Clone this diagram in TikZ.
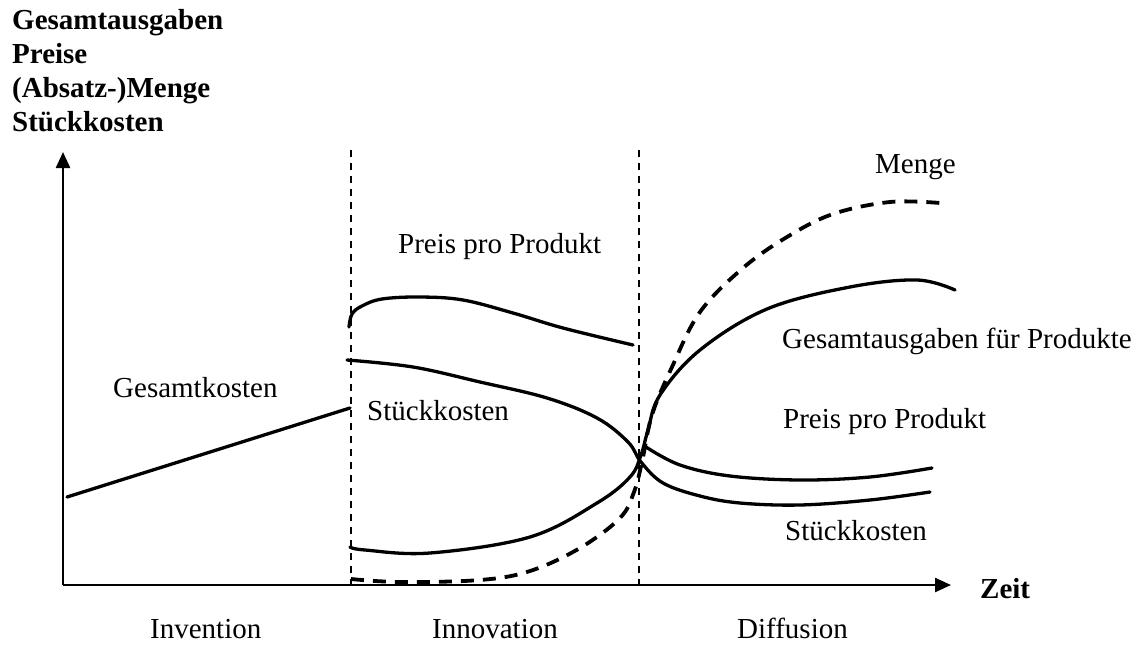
\documentclass[tikz,border=0pt]{standalone}
\usepackage{fontspec}
\setmainfont{Liberation Serif}
\usetikzlibrary{arrows.meta}
\begin{document}
\begin{tikzpicture}[x=1pt,y=-1pt,
  lbl/.style={anchor=base west,inner sep=0pt,font=\fontsize{29}{34}\selectfont},
  blbl/.style={lbl,font=\fontsize{29}{34}\selectfont\bfseries},
  axis/.style={line width=2.4pt,-{Triangle[length=16pt,width=14pt]}},
  phase/.style={line width=1.3pt,dash pattern=on 7pt off 6pt},
  curve/.style={line width=3.3pt,line cap=round,line join=round},
  dcurve/.style={line width=3.8pt,line cap=butt,line join=round,dash pattern=on 13pt off 9pt}]
\useasboundingbox (0,0) rectangle (1141,646);

% axis titles
\node[blbl] (y1) at (12,29)  {Gesamtausgaben};
\node[blbl] (y2) at (12,63)  {Preise};
\node[blbl] (y3) at (12,97)  {(Absatz-)Menge};
\node[blbl] (y4) at (12,131) {Stückkosten};
\node[blbl] (zeit) at (980,598) {Zeit};

% axes
\coordinate (o) at (63,585);
\coordinate (ytip) at (63,152);
\coordinate (xtip) at (951,585);
\draw[axis] (o) -- (ytip);
\draw[axis] (o) -- (xtip);

% phase boundaries
\coordinate (p1t) at (351,150);
\coordinate (p1b) at (351,585);
\coordinate (p2t) at (639,150);
\coordinate (p2b) at (639,585);
\draw[phase] (p1t) -- (p1b);
\draw[phase] (p2t) -- (p2b);

% Gesamtkosten (Invention)
\coordinate (gk1) at (67,497);
\coordinate (gk2) at (350,408);
\draw[curve] (gk1) -- (gk2);

% Preis pro Produkt (Innovation)
\draw[curve] plot[smooth,tension=0.6] coordinates
  {(349,327) (352,314) (362,306) (382,299) (420,297) (463,300) (513,313) (563,328) (633,345)};

% Stueckkosten, durchgehend
\draw[curve] plot[smooth,tension=0.6] coordinates
  {(347,360) (413,367) (480,382) (547,398) (597,418) (628,442) (641,462) (663,483) (700,496) (740,503) (800,505) (870,500) (930,492)};

% untere Kurve -> Gesamtausgaben fuer Produkte
\draw[curve] plot[smooth,tension=0.6] coordinates
  {(350,547) (365,550) (430,553) (530,537) (597,503) (630,477) (641,455) (648,430) (660,395) (700,350) (767,309) (850,287) (917,280) (955,290)};

% Preis pro Produkt (Diffusion)
\draw[curve] plot[smooth,tension=0.6] coordinates
  {(646,447) (680,465) (730,476) (800,480) (870,477) (932,468)};

% Menge
\draw[dcurve] plot[smooth,tension=0.6] coordinates
  {(351,579) (400,582) (480,580) (530,571) (580,548) (620,518) (634,492) (642,462) (652,415) (672,367) (700,312) (743,268) (787,237) (833,214) (890,202) (940,203)};

% Kurvenbeschriftungen
\node[lbl] (lmenge) at (875,173) {Menge};
\node[lbl] (lpreis1) at (398,253) {Preis pro Produkt};
\node[lbl] (lgk) at (113,397) {Gesamtkosten};
\node[lbl] (lsk1) at (367,420) {Stückkosten};
\node[lbl] (lga) at (782,348) {Gesamtausgaben für Produkte};
\node[lbl] (lpreis2) at (783,428) {Preis pro Produkt};
\node[lbl] (lsk2) at (785,540) {Stückkosten};

% Phasen
\node[lbl] (inv) at (150,638) {Invention};
\node[lbl] (inn) at (432,638) {Innovation};
\node[lbl] (dif) at (737,638) {Diffusion};
\end{tikzpicture}
\end{document}
